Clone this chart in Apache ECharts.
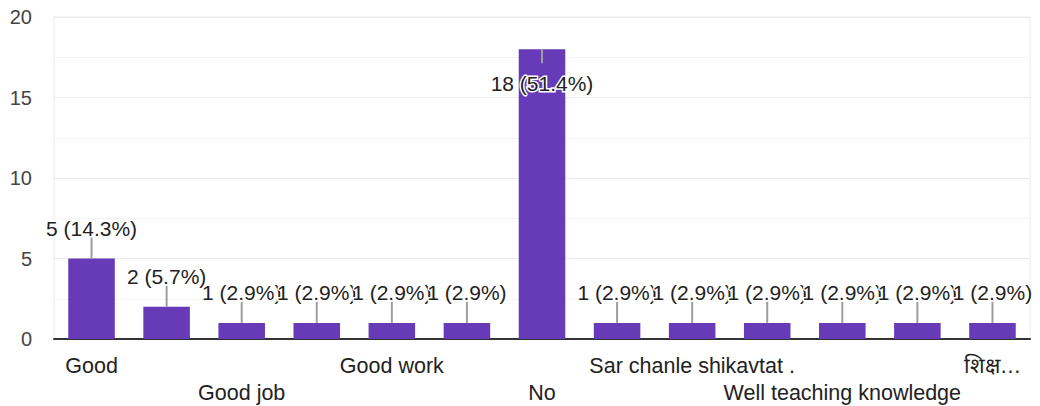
<!DOCTYPE html>
<html>
<head>
<meta charset="utf-8">
<script src="https://cdn.jsdelivr.net/npm/echarts@6/dist/echarts.min.js"></script>
<style>
html,body{margin:0;padding:0;background:#fff;}
#chart{width:1040px;height:406px;}
</style>
</head>
<body>
<div id="chart"></div>
<script>
// Categories (odd-index names are not shown in the reference; placeholders)
const categories = ['Good', 'Good (other)', 'Good job', 'Good teaching', 'Good work', 'Nice',
  'No', 'Ok', 'Sar chanle shikavtat .', 'Teaching', 'Well teaching knowledge', 'Yes', 'शिक्ष…'];
const counts = [5, 2, 1, 1, 1, 1, 18, 1, 1, 1, 1, 1, 1];
const percents = ['14.3%', '5.7%', '2.9%', '2.9%', '2.9%', '2.9%', '51.4%', '2.9%', '2.9%', '2.9%', '2.9%', '2.9%', '2.9%'];
const yTicks = [0, 5, 10, 15, 20];

const FONT = '"Liberation Sans", Arial, sans-serif';
const chart = echarts.init(document.getElementById('chart'), null, {renderer: 'svg'});

const barData = counts.map((v, i) => {
  const inside = v >= 16;
  return {
    value: v,
    label: inside ? {position: 'insideTop', distance: 24} : {position: 'top', distance: 20}
  };
});

chart.setOption({
  animation: false,
  grid: {left: 54, right: 10, top: 17, bottom: 65, show: true, borderColor: '#ebebeb', borderWidth: 1},
  xAxis: {
    type: 'category',
    data: categories,
    axisTick: {show: false},
    axisLine: {lineStyle: {color: '#333', width: 2}},
    axisLabel: {
      interval: 0,
      color: '#222',
      fontFamily: FONT,
      fontSize: 21.5,
      margin: 13,
      lineHeight: 27,
      formatter: (val, idx) => {
        if (idx % 2 === 1) return '';
        return (idx % 4 === 2) ? '\n' + val : val;
      }
    }
  },
  yAxis: {
    type: 'value',
    min: yTicks[0],
    max: yTicks[yTicks.length - 1],
    interval: 5,
    axisLine: {show: false},
    axisTick: {show: false},
    axisLabel: {color: '#444', fontFamily: FONT, fontSize: 20, margin: 22},
    splitLine: {lineStyle: {color: '#ebebeb', width: 1}},
    minorTick: {show: false, splitNumber: 2},
    minorSplitLine: {show: true, lineStyle: {color: '#f4f4f4', width: 1}}
  },
  series: [
    {
      type: 'bar',
      data: barData,
      barWidth: '62%',
      itemStyle: {color: '#673ab7'},
      label: {
        show: true,
        color: '#222',
        fontFamily: FONT,
        fontSize: 21,
        textBorderColor: '#fff',
        textBorderWidth: 3,
        formatter: p => counts[p.dataIndex] + ' (' + percents[p.dataIndex] + ')'
      },
      z: 2
    },
    {
      type: 'custom',
      data: counts.map((v, i) => [i, v]),
      renderItem: (params, api) => {
        const v = api.value(1);
        const p = api.coord([api.value(0), v]);
        const inside = v >= 16;
        return {
          type: 'line',
          shape: {x1: p[0], y1: p[1], x2: p[0], y2: inside ? p[1] + 14 : p[1] - 21},
          style: {stroke: '#9e9e9e', lineWidth: 2}
        };
      },
      silent: true,
      z: 3
    }
  ]
});
</script>
</body>
</html>
